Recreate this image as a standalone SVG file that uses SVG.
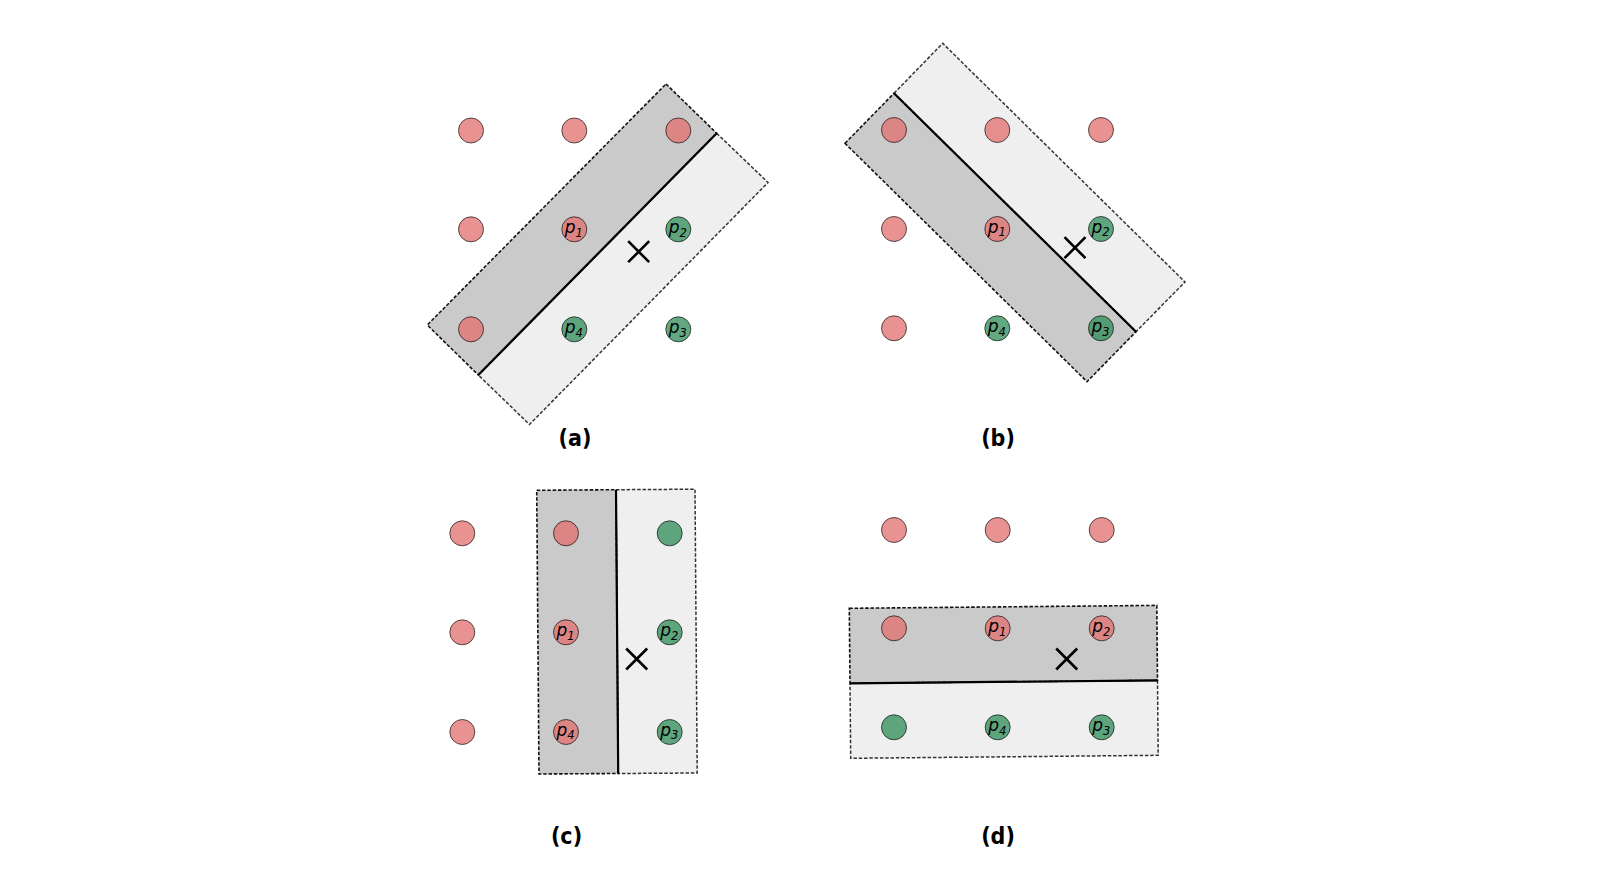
<svg xmlns="http://www.w3.org/2000/svg" width="1614" height="884" viewBox="0 0 1614 884">
<style>
.dk{fill:#cacaca;stroke:#111;stroke-width:1.6;stroke-dasharray:3.5 1.8}
.lt{fill:#efefef;stroke:#333;stroke-width:1.5;stroke-dasharray:3.5 1.8}
.dv{stroke:#000;stroke-width:2.2;fill:none}
.pk{fill:#e06e6e;fill-opacity:.75;stroke:#000;stroke-opacity:.8;stroke-width:.8}
.gr{fill:#2e8b57;fill-opacity:.75;stroke:#000;stroke-opacity:.8;stroke-width:.8}
.xm{stroke:#000;stroke-width:2.6;fill:none}
.lb{font-family:"DejaVu Sans","Liberation Sans",sans-serif;font-style:italic;font-size:17px;fill:#000;text-anchor:middle}
.sb{font-size:11.5px}
.cap{font-family:"DejaVu Sans Condensed","DejaVu Sans","Liberation Sans",sans-serif;font-stretch:condensed;font-weight:bold;font-size:23px;fill:#000;text-anchor:middle}
</style>
<defs>
<path id="x" class="xm" d="M-10.5,-10.5L10.5,10.5M-10.5,10.5L10.5,-10.5"/>
</defs>
<rect width="1614" height="884" fill="#fff"/>

<g id="panel-a">
<polygon class="lt" points="716.7,133.3 768,182.5 529.5,424.5 478.3,375"/>
<polygon class="dk" points="666,84 716.7,133.3 478.3,375 427.3,325"/>
<g id="a-nodes">
<circle class="pk" cx="471" cy="130.5" r="12.5"/>
<circle class="pk" cx="574.3" cy="130.5" r="12.5"/>
<circle class="pk" cx="678.3" cy="130.5" r="12.5"/>
<circle class="pk" cx="471" cy="229.3" r="12.5"/>
<g id="a-p1"><circle class="pk" cx="574.3" cy="229.3" r="12.5"/><text class="lb" x="573.8" y="233">p<tspan class="sb" dy="3.5">1</tspan></text></g>
<g id="a-p2"><circle class="gr" cx="678.3" cy="229.3" r="12.5"/><text class="lb" x="677.8" y="233">p<tspan class="sb" dy="3.5">2</tspan></text></g>
<circle class="pk" cx="471" cy="329.3" r="12.5"/>
<g id="a-p4"><circle class="gr" cx="574.3" cy="329.3" r="12.5"/><text class="lb" x="573.8" y="333">p<tspan class="sb" dy="3.5">4</tspan></text></g>
<g id="a-p3"><circle class="gr" cx="678.3" cy="329.3" r="12.5"/><text class="lb" x="677.8" y="333">p<tspan class="sb" dy="3.5">3</tspan></text></g>
</g>
<line class="dv" x1="716.7" y1="133.3" x2="478.3" y2="375"/>
<use href="#x" x="638.7" y="251.7"/>
<text class="cap" x="575" y="445.5">(a)</text>
</g>

<g id="panel-b">
<polygon class="lt" points="894,93.3 942.7,43.3 1185,282 1136,331.7"/>
<polygon class="dk" points="845,143.3 894,93.3 1136,331.7 1087,381.7"/>
<g id="b-nodes">
<circle class="pk" cx="894" cy="130" r="12.5"/>
<circle class="pk" cx="997.3" cy="130" r="12.5"/>
<circle class="pk" cx="1101" cy="130" r="12.5"/>
<circle class="pk" cx="894" cy="229" r="12.5"/>
<g id="b-p1"><circle class="pk" cx="997.3" cy="229" r="12.5"/><text class="lb" x="996.8" y="232.7">p<tspan class="sb" dy="3.5">1</tspan></text></g>
<g id="b-p2"><circle class="gr" cx="1101" cy="229" r="12.5"/><text class="lb" x="1100.5" y="232.7">p<tspan class="sb" dy="3.5">2</tspan></text></g>
<circle class="pk" cx="894" cy="328.3" r="12.5"/>
<g id="b-p4"><circle class="gr" cx="997.3" cy="328.3" r="12.5"/><text class="lb" x="996.8" y="332">p<tspan class="sb" dy="3.5">4</tspan></text></g>
<g id="b-p3"><circle class="gr" cx="1101" cy="328.3" r="12.5"/><text class="lb" x="1100.5" y="332">p<tspan class="sb" dy="3.5">3</tspan></text></g>
</g>
<line class="dv" x1="894" y1="93.3" x2="1136" y2="331.7"/>
<use href="#x" x="1075" y="247.7"/>
<text class="cap" x="998" y="445.5">(b)</text>
</g>

<g id="panel-c">
<polygon class="lt" points="616,489.7 695,489.2 697.2,773 618.2,773.5"/>
<polygon class="dk" points="536.7,490.3 616,489.7 618.2,773.5 539,774"/>
<g id="c-nodes">
<circle class="pk" cx="462.3" cy="533.3" r="12.5"/>
<circle class="pk" cx="566" cy="533.3" r="12.5"/>
<circle class="gr" cx="669.7" cy="533.3" r="12.5"/>
<circle class="pk" cx="462.3" cy="632.3" r="12.5"/>
<g id="c-p1"><circle class="pk" cx="566" cy="632.3" r="12.5"/><text class="lb" x="565.5" y="636">p<tspan class="sb" dy="3.5">1</tspan></text></g>
<g id="c-p2"><circle class="gr" cx="669.7" cy="632.3" r="12.5"/><text class="lb" x="669.2" y="636">p<tspan class="sb" dy="3.5">2</tspan></text></g>
<circle class="pk" cx="462.3" cy="732" r="12.5"/>
<g id="c-p4"><circle class="pk" cx="566" cy="732" r="12.5"/><text class="lb" x="565.5" y="735.7">p<tspan class="sb" dy="3.5">4</tspan></text></g>
<g id="c-p3"><circle class="gr" cx="669.7" cy="732" r="12.5"/><text class="lb" x="669.2" y="735.7">p<tspan class="sb" dy="3.5">3</tspan></text></g>
</g>
<line class="dv" x1="616" y1="489.7" x2="618.2" y2="773.5"/>
<use href="#x" x="636.7" y="659"/>
<text class="cap" x="566.5" y="843.5">(c)</text>
</g>

<g id="panel-d">
<polygon class="lt" points="850,683.3 1157.5,680.4 1158.2,755.3 850.7,758.3"/>
<polygon class="dk" points="849.3,608.3 1156.8,605.4 1157.5,680.4 850,683.3"/>
<g id="d-nodes">
<circle class="pk" cx="894" cy="530" r="12.5"/>
<circle class="pk" cx="997.7" cy="530" r="12.5"/>
<circle class="pk" cx="1101.7" cy="530" r="12.5"/>
<circle class="pk" cx="894" cy="628.3" r="12.5"/>
<g id="d-p1"><circle class="pk" cx="997.7" cy="628.3" r="12.5"/><text class="lb" x="997.2" y="632">p<tspan class="sb" dy="3.5">1</tspan></text></g>
<g id="d-p2"><circle class="pk" cx="1101.7" cy="628.3" r="12.5"/><text class="lb" x="1101.2" y="632">p<tspan class="sb" dy="3.5">2</tspan></text></g>
<circle class="gr" cx="894" cy="727.3" r="12.5"/>
<g id="d-p4"><circle class="gr" cx="997.7" cy="727.3" r="12.5"/><text class="lb" x="997.2" y="731">p<tspan class="sb" dy="3.5">4</tspan></text></g>
<g id="d-p3"><circle class="gr" cx="1101.7" cy="727.3" r="12.5"/><text class="lb" x="1101.2" y="731">p<tspan class="sb" dy="3.5">3</tspan></text></g>
</g>
<line class="dv" x1="850" y1="683.3" x2="1157.5" y2="680.4"/>
<use href="#x" x="1066.7" y="659"/>
<text class="cap" x="998" y="843.5">(d)</text>
</g>
</svg>
